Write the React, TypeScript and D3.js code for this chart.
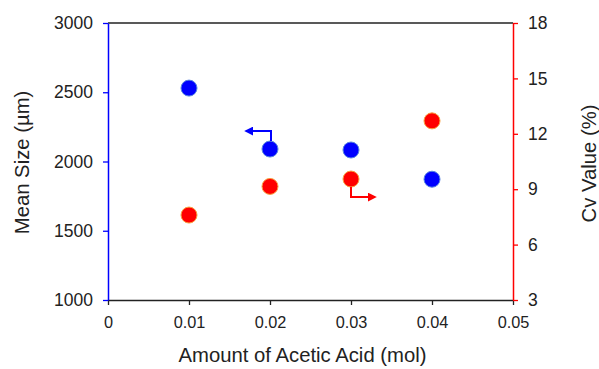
import { useEffect, useRef } from "react"
import * as d3 from "d3"

// amount of acetic acid (mol)
const acidAmount = [0.01, 0.02, 0.03, 0.04]
// mean size (µm), left axis
const meanSize = [2530, 2090, 2083, 1872]
// Cv value (%), right axis
const cvValue = [7.6, 9.15, 9.55, 12.7]

const xTicks = [0, 0.01, 0.02, 0.03, 0.04, 0.05]
const sizeTicks = [1000, 1500, 2000, 2500, 3000]
const cvTicks = [3, 6, 9, 12, 15, 18]

const FONT = "'Liberation Sans', Arial, sans-serif"

export default function App() {
  const svgRef = useRef<SVGSVGElement>(null)

  useEffect(() => {
    if (!svgRef.current) return
    const svg = d3.select(svgRef.current)
    svg.selectAll("*").remove()

    const margin = { top: 23, right: 86, bottom: 69, left: 108 }
    const W = 599
    const H = 369
    const width = W - margin.left - margin.right
    const height = H - margin.top - margin.bottom

    const g = svg.append("g").attr("transform", `translate(${margin.left},${margin.top})`)

    const x = d3.scaleLinear().domain([0, 0.05]).range([0, width])
    const yL = d3.scaleLinear().domain([1000, 3000]).range([height, 0])
    const yR = d3.scaleLinear().domain([3, 18]).range([height, 0])

    // top frame line
    g.append("line")
      .attr("x1", 0).attr("x2", width).attr("y1", 0).attr("y2", 0)
      .attr("stroke", "#222").attr("stroke-width", 1.3)

    const styleAxis = (sel: any, color: string, size: number) => {
      sel.attr("font-family", FONT).attr("font-size", size)
      sel.select(".domain").attr("stroke", color).attr("stroke-width", 1.5)
      sel.selectAll(".tick line").attr("stroke", color).attr("stroke-width", 1.3)
      sel.selectAll(".tick text").attr("fill", "#222")
    }

    const xAxis = g.append("g")
      .attr("transform", `translate(0,${height})`)
      .call(d3.axisBottom(x).tickValues(xTicks).tickSize(5).tickSizeOuter(0)
        .tickFormat((d: any) => (d === 0 ? "0" : d3.format(".2f")(d))).tickPadding(11))
    styleAxis(xAxis, "#222", 16.3)

    const leftAxis = g.append("g")
      .call(d3.axisLeft(yL).tickValues(sizeTicks).tickSize(5).tickSizeOuter(0)
        .tickFormat(d3.format("d")).tickPadding(10))
    styleAxis(leftAxis, "#0000ff", 17.5)

    const rightAxis = g.append("g")
      .attr("transform", `translate(${width},0)`)
      .call(d3.axisRight(yR).tickValues(cvTicks).tickSize(5).tickSizeOuter(0)
        .tickFormat(d3.format("d")).tickPadding(10))
    styleAxis(rightAxis, "#ff0000", 17.5)

    // axis titles
    g.append("text")
      .attr("x", width / 2 - 8).attr("y", height + 62)
      .attr("text-anchor", "middle")
      .attr("font-family", FONT).attr("font-size", 20.3).attr("fill", "#222")
      .text("Amount of Acetic Acid (mol)")

    g.append("text")
      .attr("transform", `translate(${-margin.left + 29},${height / 2 + 1}) rotate(-90)`)
      .attr("text-anchor", "middle")
      .attr("font-family", FONT).attr("font-size", 20.3).attr("fill", "#222")
      .text("Mean Size (µm)")

    g.append("text")
      .attr("transform", `translate(${width + 83},${height / 2 + 2}) rotate(-90)`)
      .attr("text-anchor", "middle")
      .attr("font-family", FONT).attr("font-size", 20.3).attr("fill", "#222")
      .text("Cv Value (%)")

    // markers
    g.selectAll("circle.size")
      .data(acidAmount)
      .enter()
      .append("circle")
      .attr("class", "size")
      .attr("cx", d => x(d))
      .attr("cy", (_, i) => yL(meanSize[i]))
      .attr("r", 8)
      .attr("fill", "#0000ff")
      .attr("stroke", "#5a86e0")
      .attr("stroke-width", 1)

    g.selectAll("circle.cv")
      .data(acidAmount)
      .enter()
      .append("circle")
      .attr("class", "cv")
      .attr("cx", d => x(d))
      .attr("cy", (_, i) => yR(cvValue[i]))
      .attr("r", 8)
      .attr("fill", "#ff0000")
      .attr("stroke", "#f9a040")
      .attr("stroke-width", 1)

    // arrow heads
    const defs = svg.append("defs")
    const addHead = (id: string, color: string) => {
      defs.append("marker")
        .attr("id", id)
        .attr("viewBox", "0 0 10 10")
        .attr("refX", 8).attr("refY", 5)
        .attr("markerWidth", 4.5).attr("markerHeight", 4.5)
        .attr("markerUnits", "strokeWidth")
        .attr("orient", "auto")
        .append("path")
        .attr("d", "M0,0 L10,5 L0,10 Z")
        .attr("fill", color)
    }
    addHead("headBlue", "#0000ff")
    addHead("headRed", "#ff0000")

    // blue arrow: points to left axis
    const bx = x(acidAmount[1]) + 1
    const by = yL(meanSize[1])
    g.append("path")
      .attr("d", `M${bx},${by - 8} V${by - 18} H${bx - 25}`)
      .attr("fill", "none")
      .attr("stroke", "#0000ff")
      .attr("stroke-width", 2)
      .attr("marker-end", "url(#headBlue)")

    // red arrow: points to right axis
    const rx = x(acidAmount[2])
    const ry = yR(cvValue[2])
    g.append("path")
      .attr("d", `M${rx},${ry + 8} V${ry + 18} H${rx + 24}`)
      .attr("fill", "none")
      .attr("stroke", "#ff0000")
      .attr("stroke-width", 2)
      .attr("marker-end", "url(#headRed)")
  }, [])

  return (
    <svg
      ref={svgRef}
      width={599}
      height={369}
      style={{ position: "fixed", left: 0, top: 0, display: "block", background: "#fff" }}
    />
  )
}
